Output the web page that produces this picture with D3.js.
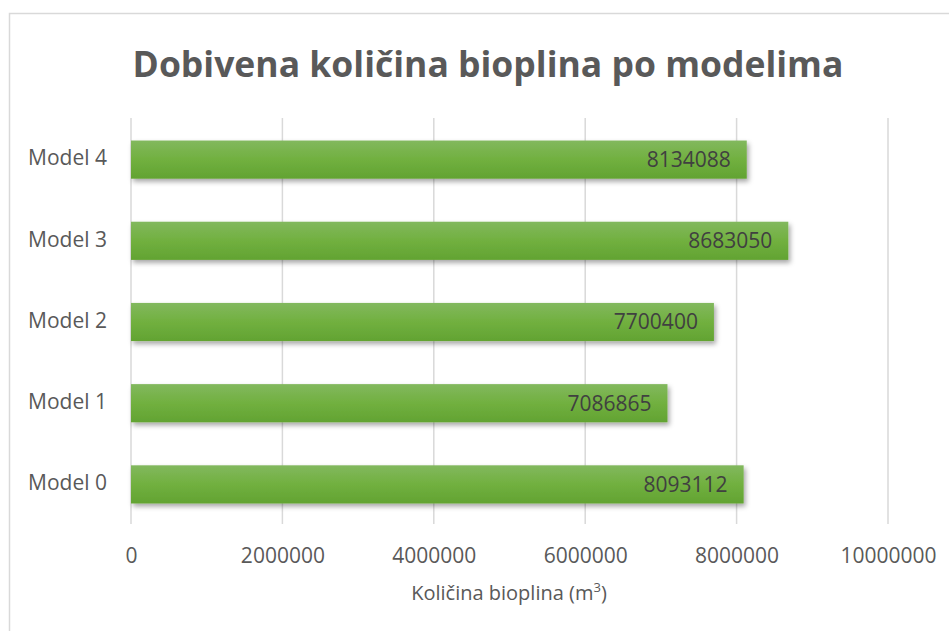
<!DOCTYPE html>
<html>
<head>
<meta charset="utf-8">
<script src="https://cdn.jsdelivr.net/npm/d3@7"></script>
<style>
  body { margin: 0; background: #fff; }
  text { font-family: "Open Sans", "Noto Sans", sans-serif; fill: #595959; }
</style>
</head>
<body>
<script>
const categories = ['Model 0', 'Model 1', 'Model 2', 'Model 3', 'Model 4'];
const values     = [8093112, 7086865, 7700400, 8683050, 8134088];
const xTicks     = [0, 2000000, 4000000, 6000000, 8000000, 10000000];

const width  = 949;
const height = 631;
const margin = {top: 118, right: 61, bottom: 107, left: 131};

const svg = d3.select('body').append('svg')
    .attr('width', width)
    .attr('height', height);

// gradient + shadow for bars
const defs = svg.append('defs');
const grad = defs.append('linearGradient')
    .attr('id', 'barGrad')
    .attr('x1', 0).attr('y1', 0).attr('x2', 0).attr('y2', 1);
grad.append('stop').attr('offset', '0%').attr('stop-color', '#82b85e');
grad.append('stop').attr('offset', '50%').attr('stop-color', '#71b03f');
grad.append('stop').attr('offset', '100%').attr('stop-color', '#62a332');

const shadow = defs.append('filter')
    .attr('id', 'shadow')
    .attr('x', '-5%').attr('y', '-20%').attr('width', '115%').attr('height', '160%');
shadow.append('feDropShadow')
    .attr('dx', 2).attr('dy', 3).attr('stdDeviation', 2.5)
    .attr('flood-color', '#000').attr('flood-opacity', 0.35);

// chart frame
svg.append('rect')
    .attr('x', 9.5).attr('y', 13.5)
    .attr('width', 945).attr('height', 640)
    .attr('fill', 'none')
    .attr('stroke', '#d9d9d9')
    .attr('stroke-width', 1.5);

const x = d3.scaleLinear()
    .domain([0, 10000000])
    .range([margin.left, width - margin.right]);

const y = d3.scaleBand()
    .domain(categories.slice().reverse())
    .range([margin.top, height - margin.bottom])
    .paddingInner(0.53)
    .paddingOuter(0.265);

// gridlines
svg.append('g')
    .selectAll('line')
    .data(xTicks)
    .join('line')
    .attr('x1', d => x(d)).attr('x2', d => x(d))
    .attr('y1', margin.top).attr('y2', height - margin.bottom)
    .attr('stroke', '#d9d9d9')
    .attr('stroke-width', 1.5);

// x axis labels
const xAxis = svg.append('g')
    .attr('transform', `translate(0,${height - margin.bottom})`)
    .call(d3.axisBottom(x).tickValues(xTicks).tickFormat(d3.format('d')).tickSize(0).tickPadding(24));
xAxis.select('.domain').remove();
xAxis.selectAll('text')
    .style('font-size', '21px')
    .style('font-family', '"Open Sans", sans-serif')
    .attr('fill', '#595959');

// y axis labels
const yAxis = svg.append('g')
    .attr('transform', `translate(${margin.left},0)`)
    .call(d3.axisLeft(y).tickSize(0).tickPadding(24));
yAxis.select('.domain').remove();
yAxis.selectAll('text')
    .style('font-size', '21px')
    .style('font-family', '"Open Sans", sans-serif')
    .attr('fill', '#595959');

// bars
const rows = categories.map((c, i) => ({cat: c, val: values[i]}));

svg.append('g')
    .selectAll('rect')
    .data(rows)
    .join('rect')
    .attr('x', x(0))
    .attr('y', d => y(d.cat) + 1)
    .attr('width', d => x(d.val) - x(0))
    .attr('height', y.bandwidth())
    .attr('fill', 'url(#barGrad)')
    .attr('filter', 'url(#shadow)');

// value labels
svg.append('g')
    .selectAll('text')
    .data(rows)
    .join('text')
    .attr('x', d => x(d.val) - 16)
    .attr('y', d => y(d.cat) + 1 + y.bandwidth() / 2)
    .attr('dy', '0.35em')
    .attr('text-anchor', 'end')
    .style('font-size', '21px')
    .style('fill', '#404040')
    .text(d => d.val);

// title
svg.append('text')
    .attr('x', 488)
    .attr('y', 77)
    .attr('text-anchor', 'middle')
    .style('font-size', '35.5px')
    .style('font-weight', 'bold')
    .text('Dobivena količina bioplina po modelima');

// axis title
const at = svg.append('text')
    .attr('x', 509)
    .attr('y', 600)
    .attr('text-anchor', 'middle')
    .style('font-size', '20px');
at.append('tspan').text('Količina bioplina (m');
at.append('tspan').attr('dy', -8).style('font-size', '13px').text('3');
at.append('tspan').attr('dy', 8).text(')');
</script>
</body>
</html>
